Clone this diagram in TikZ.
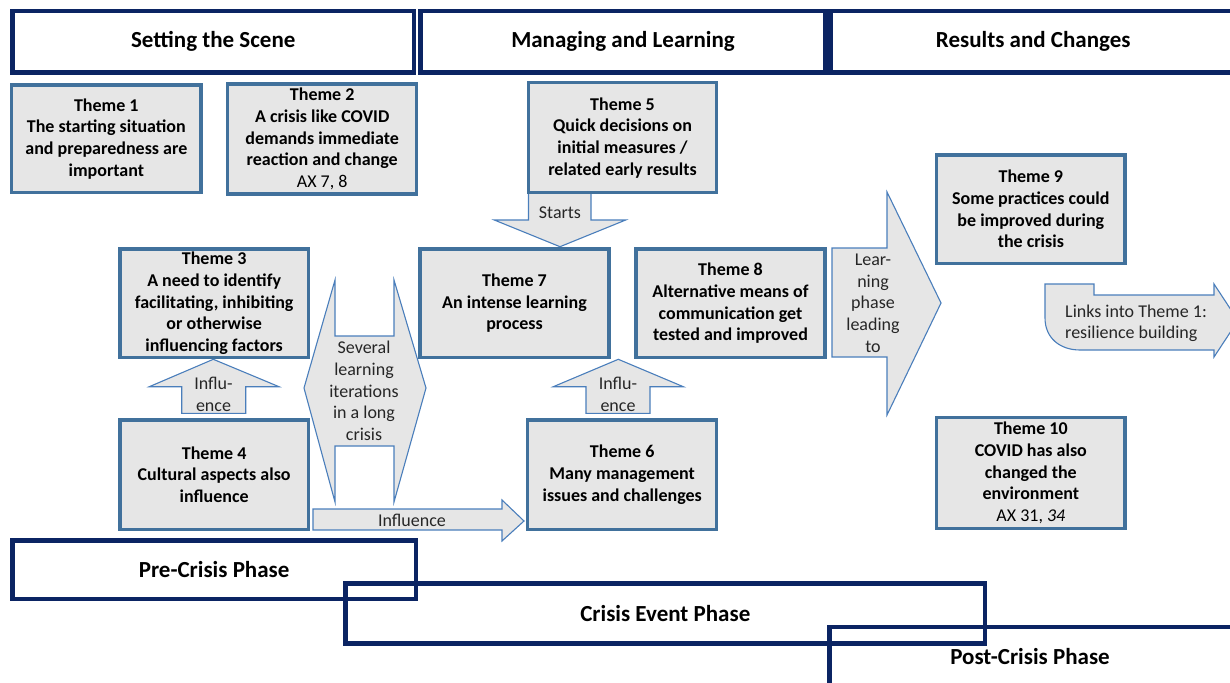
\documentclass[tikz,border=0pt]{standalone}
\usepackage{fontspec}
\setmainfont{Carlito}
\definecolor{navy}{HTML}{0B2463}
\definecolor{themeblue}{HTML}{41719C}
\definecolor{arrowblue}{HTML}{4A7EBB}
\definecolor{boxgray}{HTML}{E6E6E6}
\definecolor{labelgray}{HTML}{262626}
\begin{document}
\begin{tikzpicture}[x=1pt,y=-1pt,
  band/.style={draw=navy, line width=4.5pt, inner sep=0pt,
    font=\fontsize{23}{27}\selectfont\bfseries},
  bandtext/.style={inner sep=0pt, font=\fontsize{23}{27}\selectfont\bfseries},
  theme/.style={draw=themeblue, fill=boxgray, line width=3.3pt, inner sep=0pt,
    align=center, font=\fontsize{18}{21.7}\selectfont\bfseries},
  blockarrow/.style={draw=arrowblue, fill=boxgray, line width=1.1pt, line join=miter},
  albl/.style={align=center, text=labelgray, inner sep=0pt,
    font=\fontsize{18}{21.7}\selectfont}
]
\useasboundingbox (0,0) rectangle (1230,682);

% column headers
\node[band, minimum width=401.5pt, minimum height=61.3pt] (scene) at (213.25,41.85) {Setting the Scene};
\node[band, minimum width=405pt, minimum height=61.3pt] (manage) at (623,41.85) {Managing and Learning};
\node[band, minimum width=405.5pt, minimum height=61.3pt] (results) at (1033.25,41.85) {Results and Changes};

% phase bands along the bottom
\node[band, minimum width=403.3pt, minimum height=58.3pt] (pre) at (214.15,569.65) {Pre-Crisis Phase};
\node[band, minimum width=639.4pt, minimum height=59.6pt] (event) at (665.3,613.5) {Crisis Event Phase};
\node[band, minimum width=410pt, minimum height=80pt] (post) at (1034.7,667.2) {};
\node[bandtext] (posttext) at (1030,657) {Post-Crisis Phase};

% block arrows
\draw[blockarrow] (528.5,192) -- (528.5,220) -- (494.3,220) -- (560,246.7)
  -- (625.7,220) -- (591,220) -- (591,192) -- cycle;
\draw[blockarrow] (181.7,413.3) -- (181.7,386.7) -- (149.3,386.7) -- (213.3,359.3)
  -- (279,386.7) -- (245.7,386.7) -- (245.7,413.3) -- cycle;
\draw[blockarrow] (586,413.3) -- (586,386.7) -- (553.3,386.7) -- (618.3,359.3)
  -- (683.3,386.7) -- (650,386.7) -- (650,413.3) -- cycle;
\draw[blockarrow] (304,388) -- (335,280) -- (335,336) -- (394,336) -- (394,280)
  -- (426,388) -- (394,502) -- (394,446) -- (335,446) -- (335,502) -- cycle;
\draw[blockarrow] (313,509) -- (502,509) -- (502,500) -- (524,521) -- (502,541)
  -- (502,530) -- (313,530) -- cycle;
\draw[blockarrow] (832,248) -- (887,248) -- (887,192) -- (941,303) -- (887,415)
  -- (887,357) -- (832,357) -- cycle;
\draw[blockarrow] (1045,284) -- (1094,284) -- (1094,295) -- (1214,295) -- (1214,284)
  -- (1238,320.5) -- (1214,357) -- (1214,350) -- (1080,350)
  .. controls (1060,350) and (1045,338) .. (1045,318) -- cycle;

% arrow labels
\node[albl] (lstarts) at (560,213) {Starts};
\node[albl] (linfa) at (213.5,394.5) {Influ-\\ence};
\node[albl] (linfb) at (618,394.5) {Influ-\\ence};
\node[albl] (linfc) at (412,520) {Influence};
\node[albl] (liter) at (364,391) {Several\\learning\\iterations\\in a long\\crisis};
\node[albl] (llearn) at (873,303) {Lear-\\ning\\phase\\leading\\to};
\node[albl, anchor=west, align=left] (llinks) at (1065,323.3) {Links into Theme 1:\\resilience building};

% theme boxes
\node[theme, minimum width=189.3pt, minimum height=107.7pt] (t1) at (106.35,138.85)
  {Theme 1\\The starting situation\\and preparedness are\\important};
\node[theme, minimum width=189pt, minimum height=110pt] (t2) at (322.2,139)
  {Theme 2\\A crisis like COVID\\demands immediate\\reaction and change\\{\mdseries AX 7, 8}};
\node[theme, minimum width=188.4pt, minimum height=110pt] (t5) at (622.5,137.7)
  {Theme 5\\Quick decisions on\\initial measures /\\related early results};
\node[theme, minimum width=188.3pt, minimum height=108.7pt] (t3) at (214.15,303.35)
  {Theme 3\\A need to identify\\facilitating, inhibiting\\or otherwise\\influencing factors};
\node[theme, minimum width=189pt, minimum height=108.7pt] (t7) at (514.5,303.35)
  {Theme 7\\An intense learning\\process};
\node[theme, minimum width=189pt, minimum height=108.7pt] (t8) at (730.5,303.35)
  {Theme 8\\Alternative means of\\communication get\\tested and improved};
\node[theme, minimum width=188.3pt, minimum height=109.3pt] (t4) at (214.15,474.65)
  {Theme 4\\Cultural aspects also\\influence};
\node[theme, minimum width=189pt, minimum height=109.3pt] (t6) at (622.2,474.65)
  {Theme 6\\Many management\\issues and challenges};
\node[theme, minimum width=188.3pt, minimum height=108.3pt] (t9) at (1030.85,209.15)
  {Theme 9\\Some practices could\\be improved during\\the crisis};
\node[theme, minimum width=188.3pt, minimum height=110.6pt] (t10) at (1030.85,473)
  {Theme 10\\COVID has also\\changed the\\environment\\{\mdseries AX 31, \textit{34}}};
\end{tikzpicture}
\end{document}
